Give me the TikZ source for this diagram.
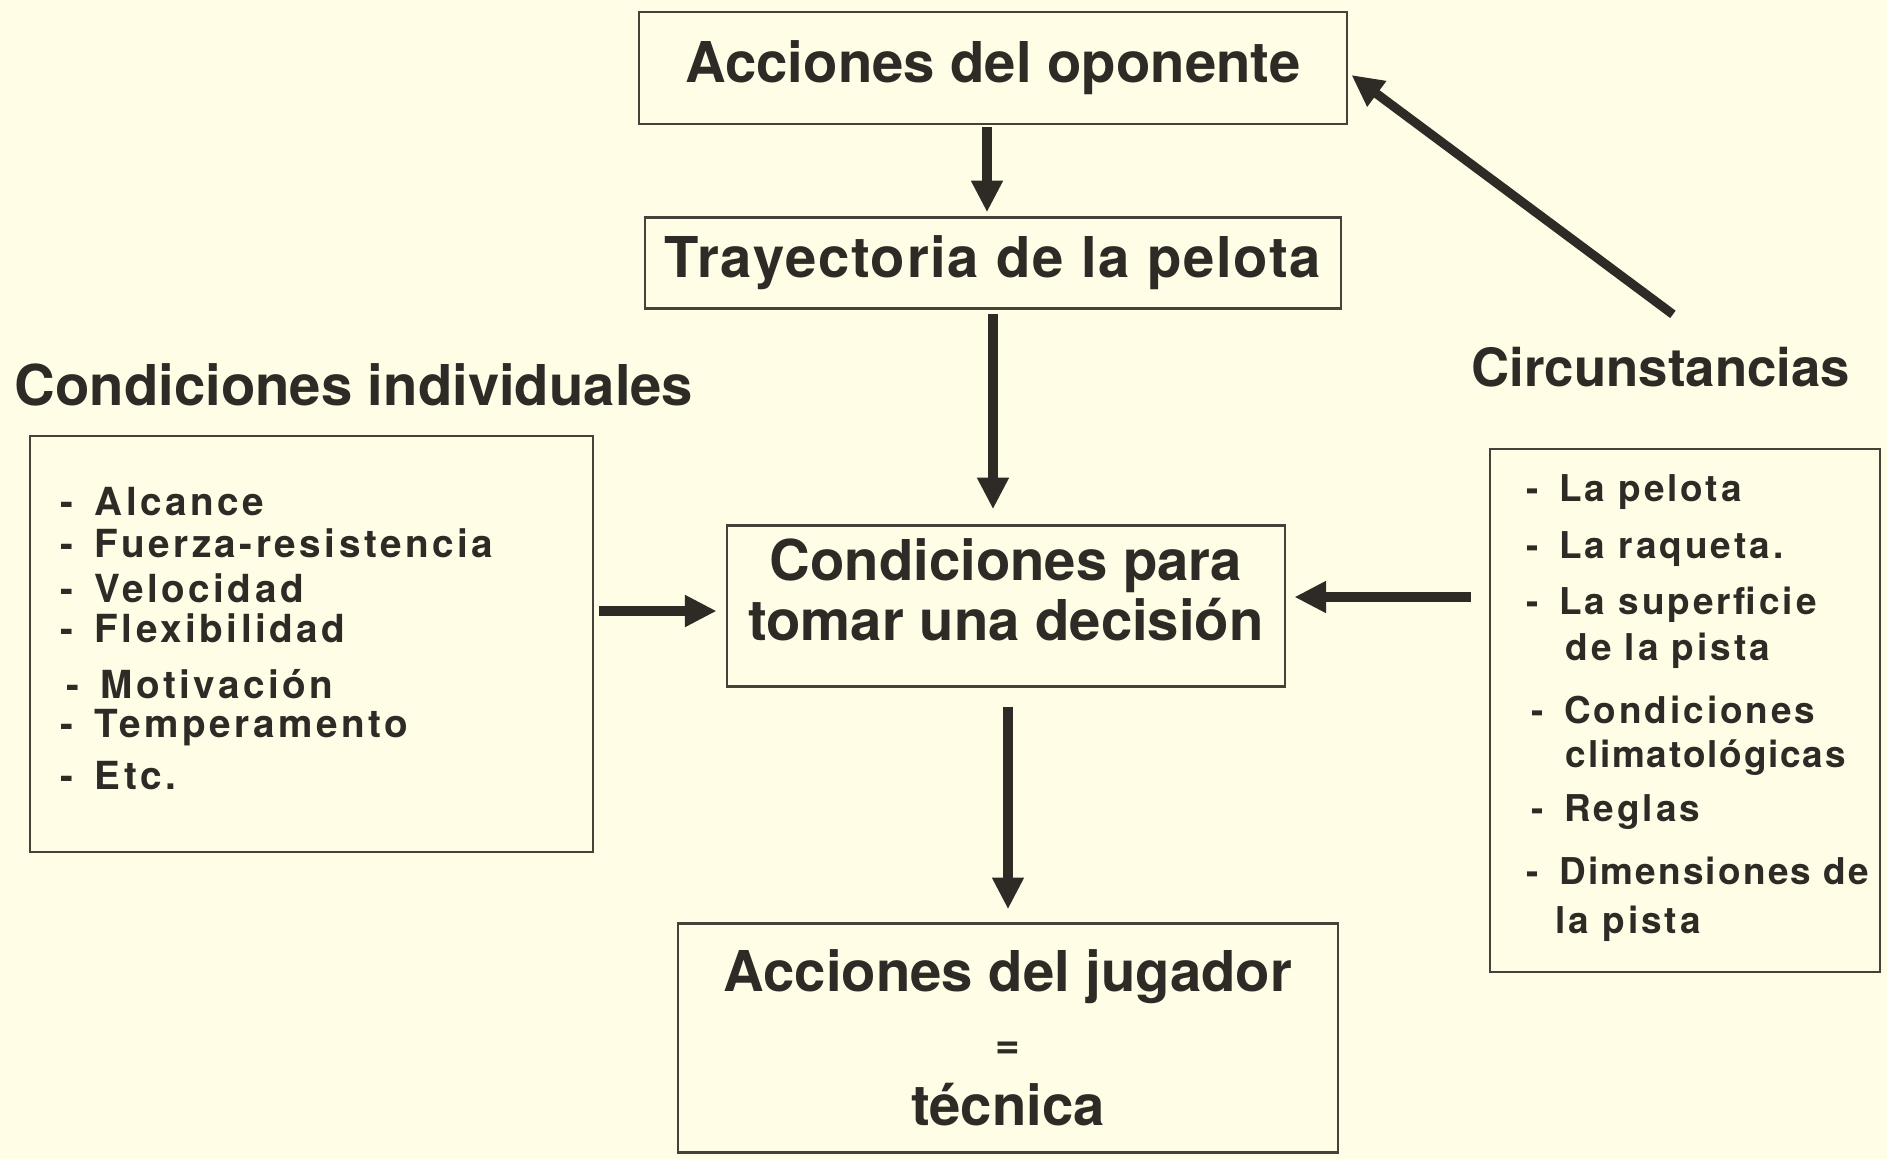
\documentclass[tikz,border=0pt]{standalone}
\usepackage{fontspec}
\setmainfont{TeX Gyre Heros}
\usetikzlibrary{arrows.meta,calc}
\definecolor{bg}{HTML}{FFFDE6}
\definecolor{ink}{HTML}{2E2B26}
\definecolor{frame}{HTML}{46423A}
\newcommand{\dsh}{-\hspace{0.55em}}
\begin{document}
\begin{tikzpicture}[x=0.01cm,y=-0.01cm,
  box/.style={draw=frame,line width=0.7pt,inner sep=0pt,text=ink,
    font=\bfseries\fontsize{16}{17}\selectfont,align=center},
  boxtext/.style={inner sep=0pt,text=ink,align=center,
    font=\bfseries\fontsize{16}{17}\selectfont},
  heading/.style={text=ink,inner sep=0pt,font=\bfseries\fontsize{16}{19}\selectfont},
  litem/.style={anchor=west,inner sep=0pt,text=ink,
    font=\bfseries\fontsize{11}{13}\selectfont\addfontfeatures{LetterSpace=9}},
  ritem/.style={anchor=west,inner sep=0pt,text=ink,
    font=\bfseries\fontsize{10.5}{13}\selectfont\addfontfeatures{LetterSpace=8}},
  arr/.style={draw=ink,line width=2.6pt,-{Triangle[length=9pt,width=8.5pt]}}
]
\fill[bg] (0,0) rectangle (1887,1159);
\useasboundingbox (0,0) rectangle (1887,1159);

% main boxes
\node[box,minimum width=7.08cm,minimum height=1.12cm] (opo) at (993,68) {Acciones del oponente};
\node[box,minimum width=6.96cm,minimum height=0.91cm] (tray) at (993,263)
  {\addfontfeatures{LetterSpace=3}Trayectoria de la pelota};
\node[box,minimum width=5.58cm,minimum height=1.61cm] (cen) at (1006,606) {};
\node[boxtext] (centxt) at (1006,590) {Condiciones para\\tomar una decisión};
\node[box,minimum width=6.60cm,minimum height=2.29cm,font=\bfseries\fontsize{16}{20}\selectfont] (bot) at (1008,1038)
  {Acciones del jugador\\[-1pt]{\fontsize{12}{20}\selectfont =}\\[-1pt]técnica};

% side boxes
\node[heading,anchor=west] (indiv) at (14,385) {Condiciones individuales};
\node[draw=frame,line width=0.7pt,minimum width=5.63cm,minimum height=4.16cm,inner sep=0pt] (lb) at (311.5,644) {};
\node[litem] (l1) at (60,502) {\dsh Alcance};
\node[litem] (l2) at (60,543) {\dsh Fuerza-resistencia};
\node[litem] (l3) at (60,588) {\dsh Velocidad};
\node[litem] (l4) at (60,628) {\dsh Flexibilidad};
\node[litem] (l5) at (66,684) {\dsh Motivación};
\node[litem] (l6) at (60,728) {\dsh Temperamento};
\node[litem] (l7) at (60,776) {\dsh Etc.};

\node[heading,anchor=west,font=\bfseries\fontsize{15}{18}\selectfont] (circ) at (1471,367) {Circunstancias};
\node[draw=frame,line width=0.7pt,minimum width=3.90cm,minimum height=5.23cm,inner sep=0pt] (rb) at (1685,710.5) {};
\node[ritem] (r1) at (1526,492) {\dsh La pelota};
\node[ritem] (r2) at (1526,549) {\dsh La raqueta.};
\node[ritem] (r3) at (1526,605) {\dsh La superficie};
\node[ritem] (r4) at (1565,651) {de la pista};
\node[ritem] (r5) at (1531,710) {\dsh Condiciones};
\node[ritem,font=\bfseries\fontsize{10.5}{13}\selectfont\addfontfeatures{LetterSpace=5}] (r6) at (1565,758) {climatológicas};
\node[ritem] (r7) at (1531,812) {\dsh Reglas};
\node[ritem,font=\bfseries\fontsize{10.5}{13}\selectfont\addfontfeatures{LetterSpace=6}] (r8) at (1526,871) {\dsh Dimensiones de};
\node[ritem] (r9) at (1555,924) {la pista};

% arrows
\draw[arr] ($(opo.south)+(-6,2)$) -- ($(tray.north)+(-6,-4)$);
\draw[arr] ($(tray.south)+(0,4)$) -- ($(cen.north)+(-13,-15)$);
\draw[arr] ($(lb.east)+(5,-33)$) -- ($(cen.west)+(-9,5)$);
\draw[arr] ($(rb.west)+(-18,-113.5)$) -- ($(cen.east)+(8,-9)$);
\draw[arr] ($(cen.south)+(2,19)$) -- ($(bot.north)+(0,-13)$);
\draw[arr] ($(circ.north)+(12,-32)$) -- ($(opo.east)+(3,7)$);
\end{tikzpicture}
\end{document}
